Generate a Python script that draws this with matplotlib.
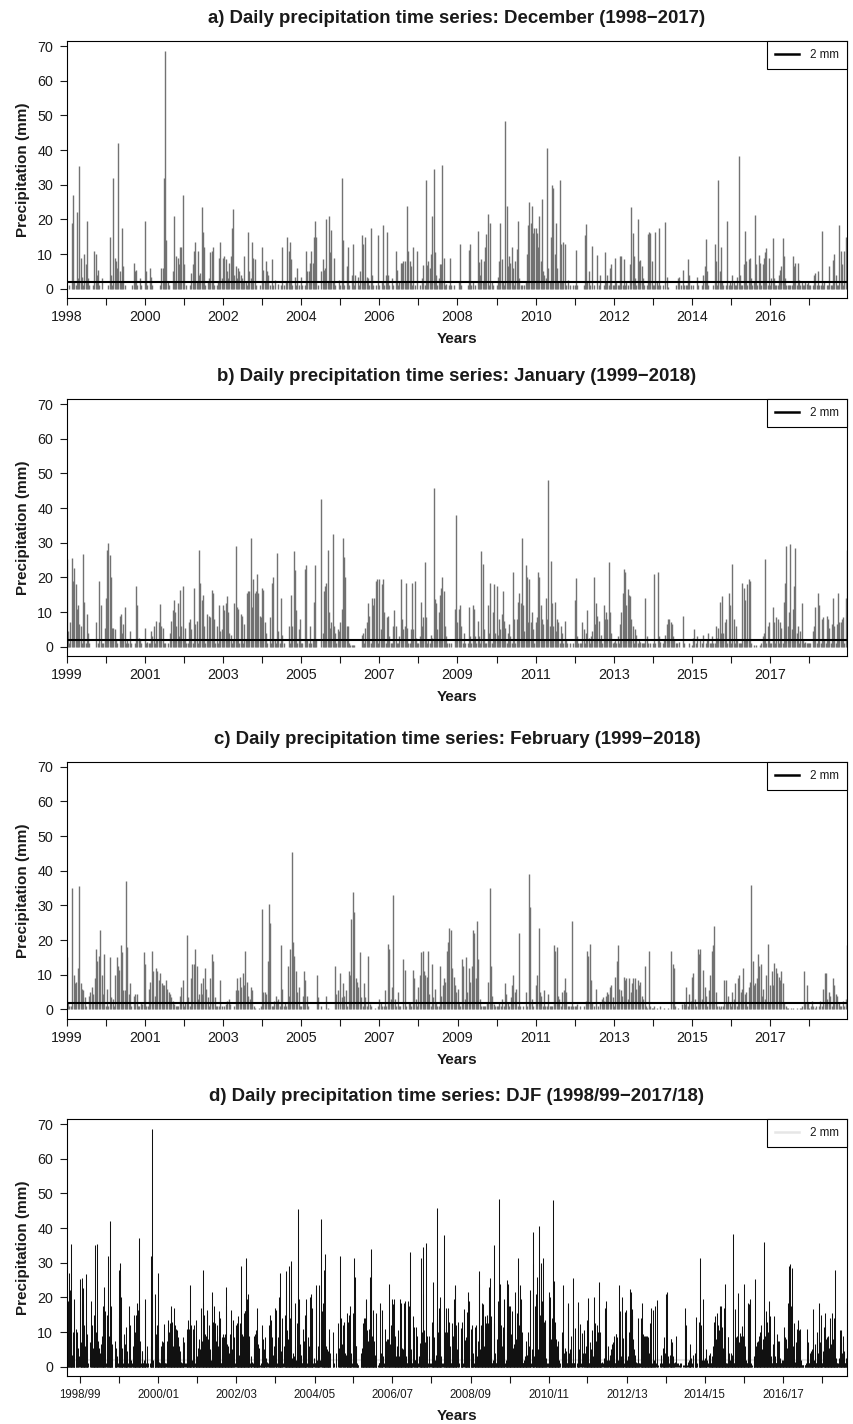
import numpy as np
import matplotlib
matplotlib.use('Agg')
import matplotlib.pyplot as plt
from matplotlib.lines import Line2D

plt.rcParams['font.family'] = ['Liberation Sans', 'DejaVu Sans']

# daily precipitation (mm), one row per year
dec_years = list(range(1998, 2018))
janfeb_years = list(range(1999, 2019))
threshold_mm = 2

dec_mm = [
    [0, 0, 1, 0, 19, 27, 2, 1, 22, 3, 35.5, 9, 3.5, 1, 10, 7, 19.5, 3, 1, 0, 0, 1, 11, 10, 4, 5.5, 1, 0, 3, 0, 0],
    [0, 0, 1, 15, 4, 1, 32, 9, 8, 6, 42, 5, 2, 17.5, 6.5, 1, 0, 0, 0, 0, 0, 1, 7.5, 5, 5.5, 1, 0, 3, 1, 0, 0],
    [19.5, 5, 1, 0, 6, 3.5, 1, 0, 0, 0, 0, 0, 1, 6, 6, 32, 68.7, 14, 2, 1, 0, 0, 5, 21, 2, 9.5, 9, 7, 12, 12, 27],
    [7, 0, 1, 0, 0, 1, 4.5, 7, 11, 13.5, 2, 11, 4, 4.5, 23.5, 16.5, 12, 1, 0, 2, 3, 10.5, 11, 12, 1, 0, 1, 2, 9, 13.5, 3],
    [9, 9.5, 8.5, 5, 3, 7.5, 9.5, 17.5, 23, 4, 6.5, 3, 6, 5, 4, 3, 2, 9.5, 2, 1, 16.5, 5, 3, 13.5, 9, 8.5, 1, 0, 0, 1, 0],
    [12, 5.5, 2, 8, 5, 4, 1, 0, 8.5, 1, 2.5, 0, 0, 1.5, 0, 1, 12, 1, 0, 2, 15, 11, 13.5, 8.5, 1, 0, 3.5, 1, 6, 1, 0],
    [3.5, 1, 0, 1, 11, 5, 5, 7.5, 11, 7.5, 15, 19.5, 15, 1, 0, 0, 5, 8.5, 5.5, 6, 20, 2, 21, 10.5, 17, 2, 9, 1, 0, 0, 2.5],
    [1, 32, 14, 1, 0, 6.5, 12, 1, 0, 4, 13, 1, 4, 0, 3.5, 1, 5, 15.5, 13, 2, 15, 3.5, 3, 1, 17.5, 4, 1, 0, 1, 0, 15.5],
    [1, 0, 2, 18.5, 1, 4, 16.5, 4, 1, 0, 3, 1, 0, 11, 5.5, 1, 2, 7.5, 7.5, 8, 8, 2, 24, 11, 8, 6.5, 1, 12, 1, 0, 11],
    [0, 1, 0, 3, 6.8, 1, 31.5, 6.8, 8, 6, 10, 21, 34.5, 10.5, 4, 1, 3, 7, 7, 35.8, 9, 1, 1.5, 0, 1, 9, 1, 0, 1, 0, 0],
    [0, 2, 13, 1, 0, 0, 0, 0, 1, 11.3, 12.8, 1, 2, 0, 1, 0, 16.8, 7.8, 4, 8.6, 2, 8, 12, 15.8, 21.7, 1, 19, 2, 1, 0, 0],
    [1, 3.5, 8, 19, 8.5, 2, 1, 48.5, 24, 6.5, 9.5, 7.5, 12, 6, 1, 8, 11.5, 19.5, 3, 1, 1, 0, 1, 2, 10, 18.5, 25, 19, 24, 16, 17.5],
    [17.5, 16, 12, 21, 8, 26, 5, 4, 3, 40.5, 6, 2, 15, 30, 29, 10, 19, 6, 2, 31.5, 13, 2, 13.5, 13, 1, 0, 2.5, 1, 0, 0, 1],
    [1, 11.2, 1, 0, 0, 0, 0, 1, 15.6, 18.7, 2, 5, 1, 0, 12.2, 1, 0, 0, 9.6, 1, 4, 0, 0, 1, 10.5, 2, 4, 1, 6, 7, 1],
    [1, 9, 2, 1, 1, 9.5, 9.5, 1, 8.5, 1, 2, 1, 0, 7, 23.5, 16, 9.5, 3, 1, 20, 8, 8.4, 6.5, 3, 1, 0, 1, 15.8, 16.4, 16, 8],
    [1, 1, 16.3, 2, 1, 17.5, 1, 0, 1, 0, 19.3, 3.5, 0.5, 0, 0, 0, 0, 0, 1, 0, 3, 3.5, 1, 0, 5.5, 1, 1, 1, 8.6, 4, 1],
    [0, 1, 0, 0, 3.5, 1, 0, 0, 1, 4, 6.5, 14.4, 5, 1, 0, 0, 0, 1, 13, 8, 1, 31.3, 5, 12, 2, 1, 0, 1, 19.6, 1, 2],
    [1, 4, 2, 1, 1, 3.5, 38.4, 4, 1, 1, 7, 16.8, 8, 1, 8.5, 8.9, 3, 1, 2, 21.4, 7, 1, 9.7, 7.5, 1, 7, 9, 10.5, 11.8, 1, 9],
    [1, 3, 14.7, 3, 1, 1, 1, 4, 5.5, 6.5, 14.5, 9.5, 3, 1, 1, 1, 1, 1, 9.4, 6.5, 7.5, 1, 7.5, 2.5, 1, 2, 1, 1, 2, 1.5, 2],
    [1, 1, 0, 1, 4, 4.5, 1, 5, 1, 1, 16.7, 1, 2, 0, 1, 1, 6.5, 1, 1, 8.4, 10, 4, 1, 1, 18.3, 11, 7, 1, 11, 15, 5],
]

jan_mm = [
    [25.3, 4.5, 1, 7, 25.5, 19, 22.6, 18, 11, 12, 6.5, 6, 1, 26.7, 13, 1, 9.5, 4, 1, 0, 0, 0, 0, 7, 0, 1, 19, 12, 1, 1, 5.5],
    [14, 28, 30, 26.5, 20, 5.5, 5.5, 5, 2, 1, 0, 9, 9.5, 4, 6.5, 11.5, 1, 2, 1, 4.5, 1, 0, 0, 1, 17.5, 12, 2.5, 2, 1, 0, 0],
    [5.5, 1, 1.5, 1, 1, 4.5, 3, 6, 1, 7.5, 2, 7, 12.4, 6, 5.5, 1, 1, 0, 1, 0, 4, 7.5, 10.5, 13.5, 10, 6, 12.5, 3, 16.5, 6, 17.5],
    [2, 5.5, 1, 1, 7, 8, 5, 1, 17, 6.5, 7.5, 1, 28, 18.5, 13.5, 15, 6, 1, 9.5, 2, 9, 8.5, 16.5, 15.5, 8, 1, 6, 1, 12, 4.5, 5],
    [12, 10.5, 12.5, 14.5, 10, 4, 3.5, 1, 2, 12.5, 29, 11.5, 11, 1, 9.5, 9, 1, 6.5, 2, 15.5, 16, 16, 31.5, 11.5, 19.5, 15.5, 16, 21, 15.5, 9, 8.5],
    [17, 16.5, 7, 4, 1, 0, 8.5, 1, 18.5, 20, 2, 1, 27, 4.5, 1, 14, 3.5, 1, 0, 0, 0, 6, 1, 15, 6, 27.5, 22, 10.5, 1, 5, 8],
    [1, 1, 0, 22.5, 23.5, 2, 1, 6, 1, 2, 13, 23.5, 2, 0, 0, 0, 42.5, 4, 16, 17.5, 18.5, 28, 10, 5.5, 7, 32.5, 6, 4, 1, 5, 4.5],
    [7, 11, 31.5, 26, 20, 6, 6, 1, 0.5, 0.5, 0.5, 0.5, 0, 0, 0, 0, 0, 3.5, 4, 1, 5.5, 7, 12.5, 9, 1, 14, 12, 14, 19, 19.5, 1],
    [19.5, 5, 18, 19.5, 10, 1, 8.5, 9, 3, 1, 1, 6, 10.5, 6, 1, 1, 3, 19.5, 8, 5, 6, 18.5, 5.5, 1, 1, 5, 18.5, 5, 19, 2.5, 1],
    [1, 3, 13, 6, 8.5, 24.5, 8.5, 1, 2, 1, 3.5, 2.5, 45.8, 13.9, 12.5, 5, 10, 15, 17, 20, 16, 6, 3, 1, 1, 0, 1, 0, 0, 11, 38],
    [7, 11, 12, 6, 1, 4, 1, 0, 1, 11.5, 3, 1, 12, 11, 3, 1, 7.5, 3, 1, 27.5, 24, 5, 1, 1, 12, 4, 18.5, 1, 10, 18, 4],
    [17.5, 3.5, 8, 5, 9.5, 16, 7.5, 5.5, 1, 4, 6.5, 3, 1, 21.5, 8, 1, 8, 13, 15.5, 12.5, 31.4, 12, 4.5, 23.5, 20, 7, 19.5, 7, 10, 5, 1],
    [7, 8.5, 21.5, 20, 12, 8, 6.5, 2, 14, 8, 48, 6, 24.8, 12.5, 6, 13, 4.5, 8, 7, 1, 6, 4, 1, 7.5, 2, 1, 0, 1, 0, 0, 1],
    [13.5, 19.8, 3, 1, 1, 1, 7, 5, 1, 4, 10.5, 2.5, 1, 3, 4.5, 20, 6.5, 12.5, 9, 7.5, 2, 3.5, 1, 11.9, 8, 10, 8, 24.3, 10, 4, 1],
    [1.5, 2, 1, 3, 1, 6.5, 10, 15.5, 22.5, 21.5, 12, 16.8, 15, 14.5, 8, 6, 1, 5, 3.5, 1, 2, 1.5, 1, 1, 1, 14, 3, 1, 0, 1, 0],
    [1, 21, 1, 0, 21.5, 3, 1.5, 0, 1, 2, 3.5, 6.5, 8, 8, 7, 6.5, 3, 2, 1, 1, 0, 1.5, 0, 0, 9, 1, 0, 0, 0, 1, 0],
    [0.5, 2.5, 5, 1, 3, 0, 2, 0, 1, 3.5, 0, 1, 2, 4, 1, 1, 3, 1, 1, 6, 2.5, 5.5, 13, 4, 14.5, 4, 7, 8, 1, 15.5, 12],
    [1, 24, 8, 1, 6, 2, 1, 1, 1, 18.5, 17, 13.5, 2, 18, 19.5, 19, 1, 0, 0.5, 0, 0.5, 0, 0, 0.5, 1, 3, 4, 25.3, 1, 6, 7],
    [1, 1, 11.5, 7, 1, 8.5, 8, 1, 7, 5.5, 1, 13, 18.5, 29, 6, 10, 29.5, 5, 11, 17.5, 28.5, 4, 6, 1, 4.5, 12.5, 2, 1, 1.5, 1, 1],
    [1, 1, 0, 4.5, 6, 11.5, 1, 15.5, 12, 1, 8, 8.5, 2, 1, 9, 8, 5.5, 1, 6.5, 14, 6, 1, 6.5, 15.5, 7, 7, 8, 8.5, 1, 14, 28],
]

feb_mm = [
    [15, 2, 1, 1, 35, 10, 7.5, 8, 12, 35.5, 7.5, 6, 5.5, 3.5, 1, 0, 4, 5, 6.5, 4.5, 9, 17.5, 14, 15.5, 23, 10, 4.5, 16],
    [1, 6, 1, 15, 3.5, 3, 1, 10, 15, 12.5, 11.5, 18.5, 16.5, 5.5, 5.5, 37, 18, 4.5, 7.5, 1, 0, 4, 4.5, 4.5, 1, 1, 2, 1.5, 16.5],
    [13, 1, 1, 6, 8, 17, 11, 4, 12, 11, 8.5, 10.5, 7.5, 7, 7, 8.5, 6, 5, 4.5, 3.5, 2.5, 1.5, 1, 1, 1, 4, 6.5, 8.5],
    [1, 2, 21.5, 3.5, 1, 9, 13, 13, 17.5, 12.5, 3, 4.5, 7.5, 4.5, 9, 12, 6, 3.5, 1, 9, 16, 14, 3.5, 1, 1, 1, 8.5, 1],
    [0, 1, 1.5, 2.5, 3, 1.5, 0, 0, 1, 5.5, 9, 5.5, 9.5, 6.5, 10.5, 7, 17, 8, 4, 3, 6.5, 5.5, 1, 0.5, 0, 0, 0.5, 1],
    [29, 5, 5, 4.5, 14, 30.5, 25, 1, 1, 2.5, 4, 2.5, 3, 1, 18.5, 6, 1, 2, 1, 12.5, 4, 17.5, 45.5, 19.5, 15.5, 11, 5, 6.5, 1],
    [1, 4, 11, 8.5, 4, 1, 0, 0, 0, 0, 0, 10, 3.5, 0, 1, 0, 0, 0, 4, 0.5, 0, 0, 0, 0, 12.5, 4.5, 5.5, 0],
    [10.5, 3.5, 7.5, 4, 5.5, 1, 11, 10, 26, 34, 28, 9, 8, 6.5, 16.5, 3.5, 1, 7.5, 3.5, 1, 15.5, 1.5, 1, 0, 0, 0.5, 0, 1],
    [3, 2, 1, 1, 5.5, 1, 19, 17.5, 3, 6.5, 33, 3, 1, 5, 1, 1, 0, 14.5, 11.5, 1, 0, 2, 2, 1, 11.5, 9, 3, 1],
    [6.5, 10, 16.5, 17, 11, 10, 9.5, 17, 4.5, 1, 13, 3.5, 6, 2, 1, 1, 12.5, 4, 7, 9, 8, 17, 19.5, 23.5, 23, 12, 9.5, 7, 5],
    [6, 2, 1, 14.5, 12.5, 3, 15, 5, 12, 8, 12.5, 23, 22, 9, 25.5, 14.5, 3, 1, 1, 1, 1, 2, 8, 35, 12.5, 4, 1.5, 1],
    [1, 1, 2, 1, 3, 1, 7.5, 4.5, 2, 1, 3.5, 7, 10, 5, 6, 1, 22, 1, 0, 1, 0, 5, 1, 39, 29.5, 3, 1, 0],
    [7, 10, 23.5, 5, 4, 1, 5.5, 1, 1, 4.5, 1, 1, 1, 18.5, 17, 18, 4, 3, 1, 5, 5.5, 9, 5, 1, 1, 1, 25.5, 1],
    [1, 1, 1.5, 0, 1, 0, 0, 1, 2.5, 17, 15.5, 19, 8.5, 2, 1, 0, 6, 1, 0, 2, 3, 3.5, 2.5, 4, 5, 4.5, 6.5, 7, 3.5],
    [1, 9.5, 14, 18.5, 6, 5.5, 4, 9.5, 8.5, 9, 3, 9, 5, 7.5, 9, 9, 6, 8.5, 7, 8, 4, 3, 12.5, 1, 0.5, 17, 1, 0.5],
    [0.5, 1, 0, 0.5, 0, 1, 0, 0, 0.5, 0, 0, 0.5, 0, 17, 13, 12, 1, 0, 0.5, 0, 0, 1.5, 2, 1.5, 6.5, 1, 4.5, 2.5],
    [9.5, 10.5, 3, 1, 17.5, 16, 17.5, 3, 11.5, 6.5, 4, 1, 5.5, 10, 17, 18.5, 24, 5, 1, 1, 0.5, 1, 1, 8.5, 8.5, 2, 4, 2],
    [1, 5, 3, 7.5, 1, 9, 10, 5, 6, 12, 4.5, 5, 1, 6.5, 8, 36, 14, 7, 7.5, 9, 16, 12.5, 13, 4, 6, 3, 10, 19, 2],
    [7, 11, 7, 13.5, 12, 10.5, 9.5, 8.5, 11, 7.5, 2, 1, 0.5, 0.5, 0, 0.5, 0.5, 0, 0, 0.5, 0, 0.5, 0.5, 1, 11, 2, 7, 2],
    [0.5, 1, 2.5, 1, 0.5, 1, 0, 1, 2.5, 1, 6, 10.5, 10.5, 3, 5, 4, 1, 9, 7, 4.5, 4, 2, 1, 1, 2.5, 1, 3, 18.5],
]

titles = [
    'a) Daily precipitation time series: December (1998\u22122017)',
    'b) Daily precipitation time series: January (1999\u22122018)',
    'c) Daily precipitation time series: February (1999\u22122018)',
    'd) Daily precipitation time series: DJF (1998/99\u22122017/18)',
]

TXT = '#1a1a1a'
FW, FH = 854, 1424
left_px, width_px, height_px = 66.7, 780.3, 257.3
tops_px = [41, 399, 761.7, 1119]


def month_series(years, rows):
    x, y = [], []
    for yr, row in zip(years, rows):
        n = len(row)
        x.extend(yr + np.arange(n) / n)
        y.extend(row)
    return np.array(x), np.array(y)


def make_axes(fig, top):
    ax = fig.add_axes([left_px / FW, 1 - (top + height_px) / FH, width_px / FW, height_px / FH])
    for s in ax.spines.values():
        s.set_linewidth(0.8)
        s.set_color('black')
    ax.set_ylim(-2.75, 71.45)
    ax.set_yticks(range(0, 71, 10))
    ax.tick_params(axis='both', direction='out', length=5.2, width=0.8, colors=TXT)
    ax.tick_params(axis='y', labelsize=10.3, pad=4.5)
    ax.set_ylabel('Precipitation (mm)', fontsize=11, fontweight='bold', color=TXT)
    ax.yaxis.set_label_coords(-0.047, 0.5)
    ax.set_xlabel('Years', fontsize=11, fontweight='bold', color=TXT)
    return ax


def add_legend(ax, color):
    h = Line2D([], [], color=color, lw=1.8)
    leg = ax.legend([h], ['%d mm' % threshold_mm], loc='upper right', fontsize=8.4,
                    fancybox=False, edgecolor='black', framealpha=1, borderaxespad=0,
                    handlelength=2.1, handletextpad=0.9, borderpad=0.7)
    leg.get_frame().set_linewidth(0.8)
    for t in leg.get_texts():
        t.set_color(TXT)


def add_title(ax, text):
    ax.text(0.5, 1.07, text, transform=ax.transAxes, ha='center', va='baseline',
            fontsize=13.4, fontweight='bold', color=TXT)


fig = plt.figure(figsize=(FW / 100, FH / 100), dpi=100)

panels = [(dec_years, dec_mm), (janfeb_years, jan_mm), (janfeb_years, feb_mm)]
for i, (years, rows) in enumerate(panels):
    ax = make_axes(fig, tops_px[i])
    x, y = month_series(years, rows)
    ax.vlines(x, 0, y, color='#727272', lw=1.0, zorder=2)
    ax.axhline(threshold_mm, color='black', lw=1.5, zorder=3)
    ax.set_xlim(years[0], x[-1])
    ax.set_xticks(years)
    ax.set_xticklabels([str(yr) if (yr - years[0]) % 2 == 0 else '' for yr in years])
    ax.tick_params(axis='x', labelsize=10.3, pad=3.3)
    ax.xaxis.set_label_coords(0.5, -0.131)
    add_legend(ax, 'black')
    add_title(ax, titles[i])

# DJF: seasons laid end to end on a day index
season_vals, jan_starts, season_labels = [], [], []
for i, yr in enumerate(dec_years):
    jan_starts.append(len(season_vals) + len(dec_mm[i]))
    season_vals.extend(dec_mm[i] + jan_mm[i] + feb_mm[i])
    season_labels.append('%d/%02d' % (yr, (yr + 1) % 100) if i % 2 == 0 else '')
season_vals = np.array(season_vals)
idx = np.arange(len(season_vals))

ax = make_axes(fig, tops_px[3])
ax.axhline(threshold_mm, color='#e6e6e6', lw=1.5, zorder=1)
ax.vlines(idx, 0, season_vals, color='#111111', lw=0.75, zorder=2)
ax.set_xlim(0, idx[-1])
ax.set_xticks(jan_starts)
ax.set_xticklabels(season_labels)
ax.tick_params(axis='x', labelsize=8.3, pad=4)
ax.xaxis.set_label_coords(0.5, -0.128)
add_legend(ax, '#e6e6e6')
add_title(ax, titles[3])

fig.savefig('out.png', dpi=100)
